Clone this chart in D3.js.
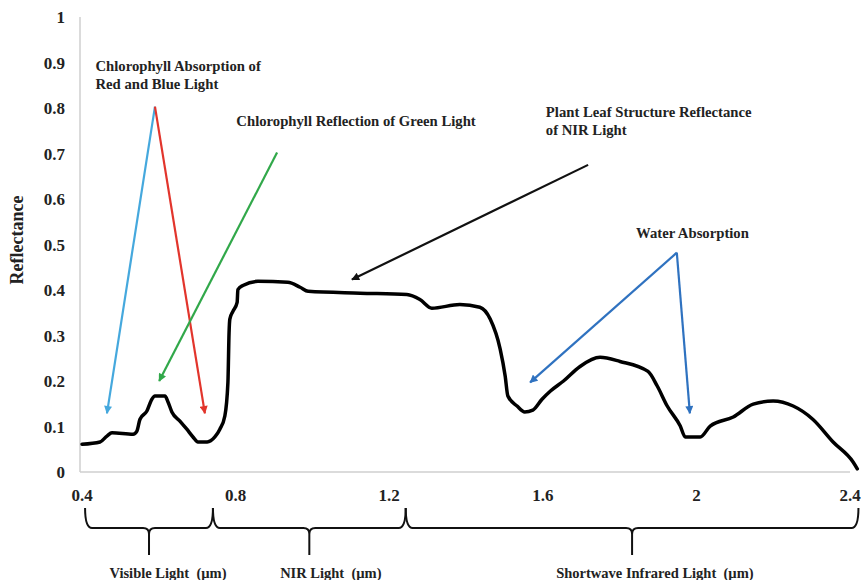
<!DOCTYPE html>
<html>
<head>
<meta charset="utf-8">
<script src="https://cdn.jsdelivr.net/npm/d3@7/dist/d3.min.js"></script>
<style>
  body { margin: 0; background: #fff; }
  text { font-family: "Liberation Serif", "Times New Roman", serif; font-weight: bold; fill: #222; white-space: pre; }
</style>
</head>
<body>
<svg width="861" height="580"></svg>
<script>
// wavelength (um) and reflectance
var wavelength = [0.400, 0.447, 0.465, 0.478, 0.533, 0.543, 0.551, 0.569, 0.582, 0.590,
  0.616, 0.624, 0.634, 0.655, 0.673, 0.689, 0.702, 0.726, 0.746, 0.759,
  0.772, 0.780, 0.783, 0.785, 0.793, 0.804, 0.806, 0.819, 0.858, 0.936,
  0.968, 0.989, 1.124, 1.246, 1.280, 1.311, 1.384, 1.436, 1.463, 1.489,
  1.502, 1.509, 1.533, 1.553, 1.574, 1.598, 1.620, 1.654, 1.697, 1.749,
  1.801, 1.874, 1.898, 1.924, 1.958, 1.971, 2.010, 2.036, 2.096, 2.148,
  2.200, 2.252, 2.303, 2.356, 2.408, 2.419];
var reflectance = [0.061, 0.066, 0.079, 0.086, 0.083, 0.090, 0.116, 0.134, 0.160, 0.167,
  0.167, 0.154, 0.132, 0.112, 0.094, 0.077, 0.066, 0.066, 0.077, 0.094,
  0.123, 0.197, 0.307, 0.336, 0.353, 0.373, 0.401, 0.410, 0.419, 0.417,
  0.406, 0.397, 0.393, 0.390, 0.379, 0.360, 0.368, 0.362, 0.336, 0.270,
  0.211, 0.167, 0.145, 0.132, 0.136, 0.160, 0.178, 0.200, 0.232, 0.252,
  0.243, 0.221, 0.189, 0.145, 0.101, 0.077, 0.077, 0.101, 0.121, 0.149,
  0.156, 0.145, 0.116, 0.066, 0.022, 0.007];

var xTicks = [0.4, 0.8, 1.2, 1.6, 2, 2.4];
var yTicks = [0, 0.1, 0.2, 0.3, 0.4, 0.5, 0.6, 0.7, 0.8, 0.9, 1];

// arrows: [wavelength, reflectance] of tail and head
var arrows = [
  {from: [0.590, 0.803], to: [0.465, 0.129], color: "#45a8dd"},
  {from: [0.590, 0.803], to: [0.720, 0.129], color: "#e2352c"},
  {from: [0.908, 0.702], to: [0.601, 0.200], color: "#31a84a"},
  {from: [1.718, 0.675], to: [1.103, 0.423], color: "#111111"},
  {from: [1.949, 0.482], to: [1.567, 0.197], color: "#2f72c0"},
  {from: [1.949, 0.482], to: [1.983, 0.129], color: "#2f72c0"}
];

// annotation labels: position in data units, lines of text
var notes = [
  {at: [0.435, 0.882], lines: ["Chlorophyll Absorption of", "Red and Blue Light"]},
  {at: [0.802, 0.760], lines: ["Chlorophyll Reflection of Green Light"]},
  {at: [1.608, 0.780], lines: ["Plant Leaf Structure Reflectance", "of NIR Light"]},
  {at: [1.843, 0.515], lines: ["Water Absorption"]}
];

// spectral regions under the axis
var regions = [
  {name: "Visible Light", start: 0.408, end: 0.741, label: 0.624},
  {name: "NIR Light", start: 0.741, end: 1.243, label: 1.048},
  {name: "Shortwave Infrared Light", start: 1.243, end: 2.422, label: 1.892}
];

var svg = d3.select("svg");
var x = d3.scaleLinear().domain([0.4, 2.4]).range([82, 850]);
var y = d3.scaleLinear().domain([0, 1]).range([472, 17]);

// axis lines
svg.append("line").attr("x1", 80).attr("x2", 80).attr("y1", y(1)).attr("y2", y(0))
  .style("stroke", "#cfcfcf").style("stroke-width", 1.5);
svg.append("line").attr("x1", 80).attr("x2", x(2.4)).attr("y1", y(0)).attr("y2", y(0))
  .style("stroke", "#cfcfcf").style("stroke-width", 1.5);

// y tick labels
svg.append("g").selectAll("text").data(yTicks).enter().append("text")
  .attr("x", 65).attr("y", function(d) { return y(d) + 6; })
  .style("text-anchor", "end").style("font-size", "17px")
  .text(function(d) { return d; });

// x tick labels
svg.append("g").selectAll("text").data(xTicks).enter().append("text")
  .attr("x", function(d) { return x(d); }).attr("y", 501)
  .style("text-anchor", "middle").style("font-size", "17px")
  .text(function(d) { return d; });

// y axis title
svg.append("text")
  .attr("transform", "translate(23,240) rotate(-90)")
  .style("text-anchor", "middle").style("font-size", "18px")
  .text("Reflectance");

// the curve
var pts = wavelength.map(function(w, i) { return [w, reflectance[i]]; });
var line = d3.line()
  .x(function(d) { return x(d[0]); })
  .y(function(d) { return y(d[1]); })
  .curve(d3.curveMonotoneX);
svg.append("path").datum(pts).attr("d", line)
  .style("fill", "none").style("stroke", "#000").style("stroke-width", 3.5)
  .style("stroke-linejoin", "round").style("stroke-linecap", "round");

// arrow heads
var defs = svg.append("defs");
arrows.forEach(function(a, i) {
  defs.append("marker").attr("id", "head" + i)
    .attr("viewBox", "0 0 10 10").attr("refX", 9).attr("refY", 5)
    .attr("markerWidth", 9).attr("markerHeight", 8)
    .attr("markerUnits", "userSpaceOnUse").attr("orient", "auto")
    .append("path").attr("d", "M0,0 L10,5 L0,10 Z").style("fill", a.color);
});
svg.append("g").selectAll("line").data(arrows).enter().append("line")
  .attr("x1", function(d) { return x(d.from[0]); })
  .attr("y1", function(d) { return y(d.from[1]); })
  .attr("x2", function(d) { return x(d.to[0]); })
  .attr("y2", function(d) { return y(d.to[1]); })
  .style("stroke", function(d) { return d.color; })
  .style("stroke-width", 2.2)
  .attr("marker-end", function(d, i) { return "url(#head" + i + ")"; });

// annotation texts
notes.forEach(function(n) {
  var t = svg.append("text").attr("x", x(n.at[0])).attr("y", y(n.at[1]))
    .style("font-size", "14.7px");
  n.lines.forEach(function(l, j) {
    t.append("tspan").attr("x", x(n.at[0])).attr("dy", j == 0 ? 0 : 18).text(l);
  });
});

// braces under the axis
var braceTop = 508, braceMid = 528, braceBot = 555;
regions.forEach(function(r) {
  var a = x(r.start), b = x(r.end), c = (a + b) / 2;
  var d = "M" + a + "," + braceTop + " Q" + a + "," + braceMid + " " + (a + 7) + "," + braceMid +
    " L" + (c - 6) + "," + braceMid + " Q" + c + "," + braceMid + " " + c + "," + (braceMid + 6) +
    " L" + c + "," + braceBot +
    " M" + c + "," + (braceMid + 6) + " Q" + c + "," + braceMid + " " + (c + 6) + "," + braceMid +
    " L" + (b - 7) + "," + braceMid + " Q" + b + "," + braceMid + " " + b + "," + braceTop;
  svg.append("path").attr("d", d)
    .style("fill", "none").style("stroke", "#111").style("stroke-width", 2);
  svg.append("text").attr("x", x(r.label)).attr("y", 578)
    .style("text-anchor", "middle").style("font-size", "14.5px")
    .text(r.name + "  (\u00b5m)");
});
</script>
</body>
</html>
